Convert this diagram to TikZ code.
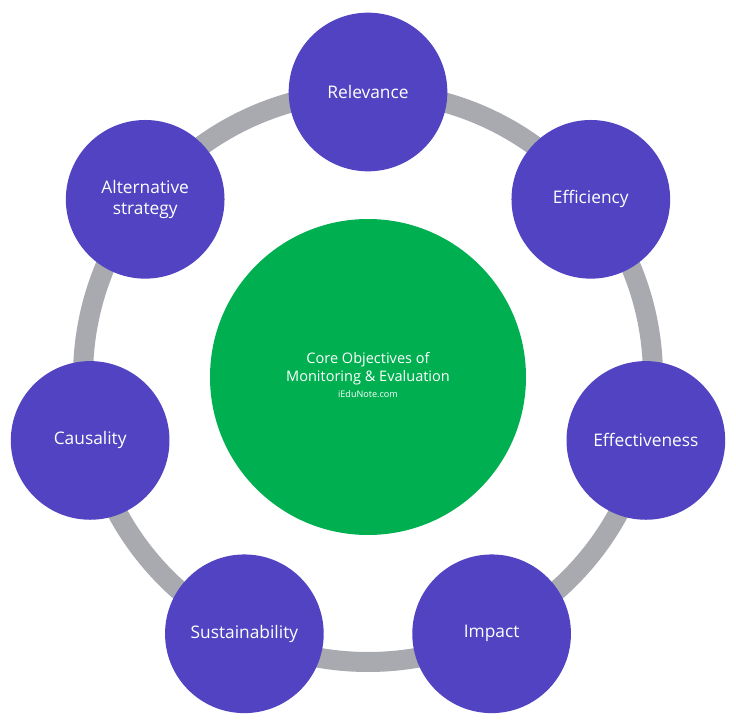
\documentclass[tikz,border=0pt]{standalone}
\usepackage{fontspec}
\setmainfont{Open Sans}
\usetikzlibrary{positioning}
\definecolor{objpurple}{RGB}{81,67,193}
\definecolor{coregreen}{RGB}{0,176,80}
\definecolor{ringgray}{RGB}{168,170,176}
\tikzset{
    cycle/.style={x=0.75pt, y=0.75pt},
    ring/.style={draw=ringgray, line width=15pt},
    core/.style={circle, fill=coregreen, text=white, minimum size=237pt, inner sep=0pt, align=center, font=\fontsize{10.9}{13.5}\selectfont},
    goal/.style={circle, fill=objpurple, text=white, minimum size=119pt, inner sep=0pt, align=center, font=\fontsize{13}{16}\selectfont},
}
\begin{document}
\begin{tikzpicture}[cycle]
    \useasboundingbox (0,0) rectangle (736,726);
    \coordinate (mid) at (368,349);

    % ring behind everything
    \draw[ring] (mid) circle[radius=213.75pt];

    \node[core] (core) at (mid) {\raisebox{-4pt}{\begin{tabular}{@{}c@{}}Core Objectives of\\Monitoring \& Evaluation\\[-1pt]{\fontsize{6.8}{8}\selectfont iEduNote.com}\end{tabular}}};

    \node[goal] (relevance)   at ([shift={(90:285)}]mid)     {Relevance};
    \node[goal] (efficiency)  at ([shift={(38.57:285)}]mid)  {Efficiency};
    \node[goal] (effective)   at ([shift={(-12.86:285)}]mid) {Effectiveness};
    \node[goal] (impact)      at ([shift={(-64.29:285)}]mid) {Impact};
    \node[goal] (sustain)     at ([shift={(-115.71:285)}]mid) {Sustainability};
    \node[goal] (causality)   at ([shift={(-167.14:285)}]mid) {Causality};
    \node[goal] (alternative) at ([shift={(141.43:285)}]mid) {Alternative\\strategy};
\end{tikzpicture}
\end{document}
